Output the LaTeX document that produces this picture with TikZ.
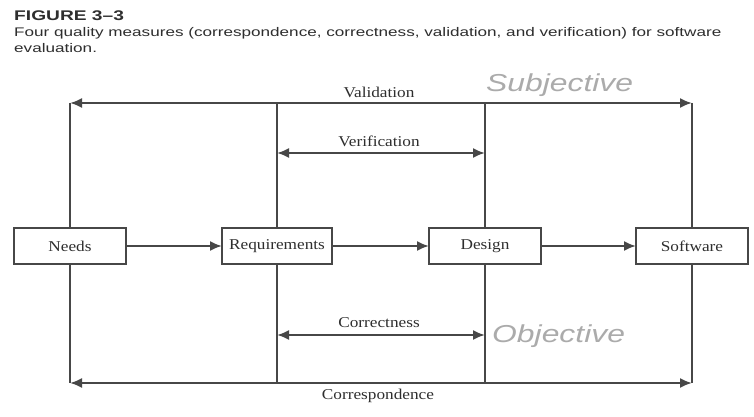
\documentclass[tikz,border=0pt]{standalone}
\usepackage{fontspec}
\setmainfont{Liberation Serif}[FakeStretch=1.15]
\newfontfamily\capfont{Liberation Sans}[FakeStretch=1.37]
\newfontfamily\handfont{Liberation Sans}[FakeStretch=1.3]
\usetikzlibrary{arrows.meta}

\definecolor{ink}{HTML}{474747}
\definecolor{textink}{HTML}{2E2E2E}
\definecolor{pencil}{HTML}{ABABAB}

\begin{document}
\begin{tikzpicture}[x=1pt,y=-1pt,
  stage/.style={draw=ink, line width=2pt, fill=white, minimum width=112pt,
    minimum height=36pt, inner sep=0pt, outer sep=0pt, text=textink,
    font=\fontsize{15}{15}\selectfont},
  flow/.style={draw=ink, line width=2pt, -{Latex[length=12pt,width=10pt]}},
  measure/.style={draw=ink, line width=2pt,
    {Latex[length=12pt,width=10pt]}-{Latex[length=12pt,width=10pt]}},
  rail/.style={draw=ink, line width=2pt},
  mlabel/.style={text=textink, inner sep=0pt, font=\fontsize{15}{15}\selectfont},
  note/.style={text=pencil, inner sep=0pt, anchor=west,
    font=\handfont\itshape\fontsize{24.5}{24.5}\selectfont},
  captext/.style={anchor=base west, inner sep=0pt, text=textink}]

\useasboundingbox (0,0) rectangle (754,417);
\fill[white] (0,0) rectangle (754,417);

% caption
\node[captext, font=\capfont\bfseries\fontsize{14}{14}\selectfont] (title) at (14,21) {FIGURE 3–3};
\node[captext, font=\capfont\fontsize{12.5}{12.5}\selectfont] (cap1) at (14,37)
  {Four quality measures (correspondence, correctness, validation, and verification) for software};
\node[captext, font=\capfont\fontsize{12.5}{12.5}\selectfont] (cap2) at (14,53) {evaluation.};

% levels of the measuring arrows
\coordinate (valY) at (0,103);
\coordinate (verY) at (0,153);
\coordinate (corY) at (0,335);
\coordinate (cspY) at (0,383);

% development stages
\node[stage] (needs) at (70,246) {Needs};
\node[stage, minimum width=110pt] (req) at (277,246) {Requirements};
\node[stage] (design) at (485,246) {Design};
\node[stage] (soft)  at (692,246) {Software};

% vertical rails through each stage
\foreach \s in {needs,req,design,soft}{
  \draw[rail] (\s.north |- valY) -- (\s.north);
  \draw[rail] (\s.south) -- (\s.south |- cspY);
}

% flow between stages
\draw[flow] (needs) -- (req);
\draw[flow] (req) -- (design);
\draw[flow] (design) -- (soft);

% quality measures
\draw[measure] (needs.north |- valY) -- (soft.north |- valY);
\draw[measure] (req.north |- verY) -- (design.north |- verY);
\draw[measure] (req.south |- corY) -- (design.south |- corY);
\draw[measure] (needs.south |- cspY) -- (soft.south |- cspY);

\node[mlabel] (lval) at (379,92)  {Validation};
\node[mlabel] (lver) at (379,141) {Verification};
\node[mlabel] (lcor) at (379,323) {Correctness};
\node[mlabel] (lcsp) at (378,396) {Correspondence};

% pencil notes
\node[note] (subj) at (486,85)  {Subjective};
\node[note] (obj)  at (492,336) {Objective};
\end{tikzpicture}
\end{document}
